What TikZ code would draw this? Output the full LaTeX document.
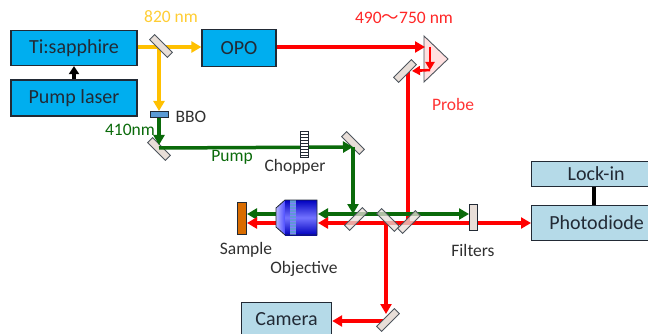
\documentclass[tikz,border=0pt]{standalone}
\usepackage{fontspec}
\setmainfont{Carlito}
\newfontfamily\cjk{Noto Sans CJK SC}
\usetikzlibrary{arrows.meta,calc}
\definecolor{bblue}{HTML}{00AEEF}
\definecolor{lblue}{HTML}{B5DAE8}
\definecolor{byel}{HTML}{FFC000}
\definecolor{bgrn}{HTML}{0A6A0A}
\definecolor{bred}{HTML}{FF0000}
\definecolor{txt}{HTML}{303030}
\definecolor{edge}{HTML}{222A35}
\definecolor{mir}{HTML}{E8DED8}
\definecolor{bbocol}{HTML}{5B9BD5}
\tikzset{
 box/.style={draw=edge,line width=1.2pt,fill=bblue,minimum width=#1,inner sep=0pt,font=\fontsize{20}{20}\selectfont,text=edge},
 lbox/.style={draw=edge,line width=1.2pt,fill=lblue,minimum width=#1,inner sep=0pt,font=\fontsize{20}{20}\selectfont,text=edge},
 mirror/.style={draw=edge!80,line width=.9pt,fill=mir,minimum width=25pt,minimum height=7pt,inner sep=0pt,rotate=#1},
 splitter/.style={mirror=#1,fill opacity=.75},
 lab/.style={font=\fontsize{17.5}{18}\selectfont,text=txt,inner sep=0pt},
 beam/.style={line width=3.5pt,draw=#1,-{Triangle[length=10pt,width=11pt]}},
 plainbeam/.style={line width=3.5pt,draw=#1},
 smallbeam/.style={line width=2.6pt,draw=#1,-{Triangle[length=8pt,width=9pt]}},
}
\begin{document}
\begin{tikzpicture}[x=1pt,y=-1pt]
\useasboundingbox (0,0) rectangle (648,334);
\coordinate (m1c) at (161,47);
\coordinate (m2c) at (159,148);
\coordinate (m3c) at (353,147);
\coordinate (m4c) at (408,71);
\coordinate (cam) at (386,321);
\coordinate (bg) at (353,214);
\coordinate (br) at (386,223);
\coordinate (pr) at (408,223);
\coordinate (fw) at (469,214);

% boxes
\node[box=126pt,minimum height=35pt] (ti) at (74,48) {\raisebox{-1pt}{Ti:sapphire}};
\node[box=126pt,minimum height=36pt] (pump) at (74,98) {\raisebox{-1pt}{Pump laser}};
\node[box=74pt,minimum height=37pt] (opo) at (239,48) {\raisebox{-1pt}{OPO}};
\node[lbox=119pt,minimum height=25pt,anchor=west] (lock) at (531,174) {\hspace*{10pt}Lock-in};
\node[lbox=119pt,minimum height=35pt,anchor=west] (pd) at (531,223) {\hspace*{11pt}Photodiode};
\node[lbox=90pt,minimum height=33pt,anchor=west] (camera) at (241,319) {Camera};
\draw[line width=3.5pt,black,-{Triangle[length=8pt,width=10pt]}] (pump.north) -- (ti.south);
\coordinate (lk) at (594,186);
\draw[line width=3.5pt,black] (lk |- lock.south) -- (lk |- pd.north);

% prism
\path[draw=edge!80,line width=.9pt,fill=red!12] (424,36) -- (448,59) -- (424,82) -- cycle;

% yellow
\coordinate (y0) at (159,47);
\coordinate (bb) at (159,111);
\draw[beam=byel] (ti.east |- m1c) -- (opo.west |- m1c);
\draw[beam=byel] (y0) -- (bb);
% red probe path
\coordinate (prin) at (425,47);
\coordinate (prd) at (430,70);
\coordinate (prl) at (412,71);
\draw[beam=bred] (opo.east |- m1c) -- (prin);
\draw[smallbeam=bred] (prin -| prd) -- (prd);
\draw[smallbeam=bred] (prd) -- (prl);
\draw[plainbeam=bred] (m4c) -- (pr);

% mirrors
\node[mirror=-45,name=m1] at (161,46) {};
\node[mirror=-45,name=m2] at (159,149) {};
\node[mirror=-45,name=m3] at (353,143) {};
\node[mirror=45,name=m4] at (405,71) {};

% green
\coordinate (g0) at (159,117);
\coordinate (g1) at (159,145);
\draw[beam=bgrn] (g0) -- (g1);
\draw[beam=bgrn] (m2c) -- (m3c);
\draw[beam=bgrn] (m3c) -- (bg);
\draw[beam=bgrn] (bg) -- (fw);
\coordinate (objr) at (318,214);
\coordinate (objl) at (277,214);
\coordinate (sg) at (247,214);
\draw[beam=bgrn] (bg) -- (objr);
\draw[beam=bgrn] (objl) -- (sg);

% red
\coordinate (robjr) at (318,223);
\coordinate (robjl) at (277,223);
\coordinate (sr) at (247,223);
\coordinate (mid) at (386,314);
\draw[beam=bred] (pr) -- (pd.west);
\draw[beam=bred] (pr) -- (robjr);
\draw[beam=bred] (robjl) -- (sr);
\draw[beam=bred] (br) -- (mid);
\draw[beam=bred] (cam) -- (camera.east |- cam);

% splitters
\node[splitter=45,name=bs1] at (356,219) {};
\node[splitter=-45,name=bs2] at (388,220) {};
\node[splitter=45,name=bs3] at (409,222) {};
\node[mirror=45,name=m5] at (388,320) {};
\node[draw=edge,line width=1pt,fill=mir,minimum width=8pt,minimum height=26pt,inner sep=0pt] (filt) at (473,217) {};
\node[draw=edge,line width=1pt,fill=orange!85!black,minimum width=9pt,minimum height=32pt,inner sep=0pt] (sample) at (241.5,218) {};
\node[draw=edge,line width=.9pt,fill=bbocol,minimum width=18pt,minimum height=6pt,inner sep=0pt] (bbo) at (159,114) {};

% chopper
\node[draw=edge,line width=.9pt,fill=white,minimum width=8pt,minimum height=26pt,inner sep=0pt] (chop) at (304,144) {};
\foreach \y in {134,137,140,143,146,149,152,155} \draw[edge,line width=.8pt] (300,\y) -- (308,\y);

% objective
\shade[left color=blue!30!white,right color=blue!70!white] (276,208) -- (285,200) -- (285,235) -- (276,227) -- cycle;
\shade[top color=blue!75!black,bottom color=blue!75!black,middle color=blue!55!white] (285,200) rectangle (317,235);
\fill[cyan!55!blue!65!white] (290,200) rectangle (296,235);
\draw[edge,line width=.8pt] (276,208) -- (285,200) -- (317,200) -- (317,235) -- (285,235) -- (276,227) -- cycle;
\foreach \y in {203,206,...,233} \draw[blue!50!white,line width=.4pt] (290,\y) -- (296,\y);

% labels
\node[lab,text=byel!80!white] (t820) at (171,17) {820 nm};
\node[lab,text=bred!85!white] (t490) at (404,18) {490{\cjk ～}750 nm};
\node[lab] (tbbo) at (191,117) {BBO};
\node[lab,text=bgrn] (t410) at (130,130) {410nm};
\node[lab,text=bgrn] (tpump) at (232,157) {Pump};
\node[lab] (tchop) at (295,167) {Chopper};
\node[lab,text=bred!80!white] (tprobe) at (453,104) {Probe};
\node[lab] (tsample) at (246,250) {Sample};
\node[lab] (tobj) at (304,269) {Objective};
\node[lab] (tfilt) at (473,250) {Filters};
\end{tikzpicture}
\end{document}
